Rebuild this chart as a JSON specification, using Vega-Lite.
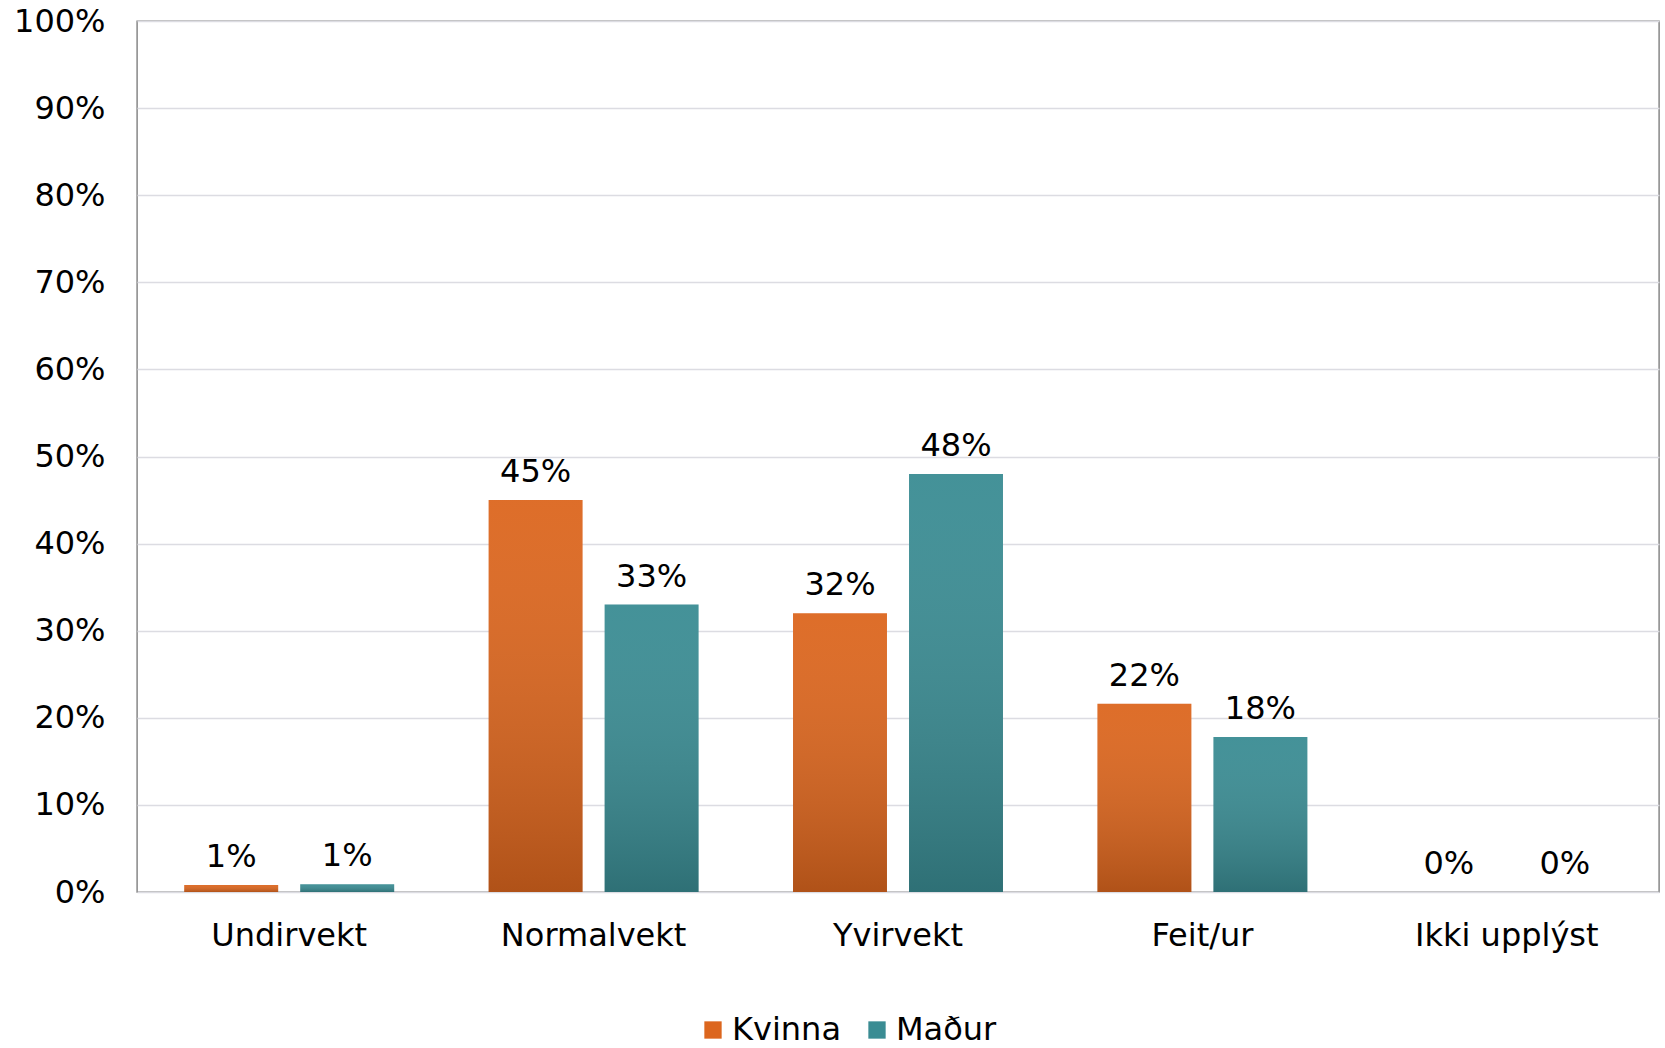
{
  "$schema": "https://vega.github.io/schema/vega-lite/v6.json",
  "width": 1522,
  "height": 871,
  "autosize": {"type": "none"},
  "padding": {"left": 137, "top": 21, "right": 6, "bottom": 156},
  "background": "white",
  "config": {
    "font": "DejaVu Sans",
    "view": {"stroke": "#7f7f7f", "strokeWidth": 1.4}
  },
  "data": {
    "values": [
      {"kategori": "Undirvekt", "kyn": "Kvinna", "virdi": 0.008},
      {"kategori": "Undirvekt", "kyn": "Maður", "virdi": 0.009},
      {"kategori": "Normalvekt", "kyn": "Kvinna", "virdi": 0.45},
      {"kategori": "Normalvekt", "kyn": "Maður", "virdi": 0.33},
      {"kategori": "Yvirvekt", "kyn": "Kvinna", "virdi": 0.32},
      {"kategori": "Yvirvekt", "kyn": "Maður", "virdi": 0.48},
      {"kategori": "Feit/ur", "kyn": "Kvinna", "virdi": 0.216},
      {"kategori": "Feit/ur", "kyn": "Maður", "virdi": 0.178},
      {"kategori": "Ikki upplýst", "kyn": "Kvinna", "virdi": 0},
      {"kategori": "Ikki upplýst", "kyn": "Maður", "virdi": 0}
    ]
  },
  "encoding": {
    "x": {
      "field": "kategori",
      "type": "nominal",
      "sort": ["Undirvekt", "Normalvekt", "Yvirvekt", "Feit/ur", "Ikki upplýst"],
      "scale": {"paddingInner": 0, "paddingOuter": 0},
      "axis": {
        "title": null,
        "labelAngle": 0,
        "labelFontSize": 32,
        "labelPadding": 28,
        "labelLimit": 400,
        "labelColor": "black",
        "ticks": false,
        "domain": false,
        "grid": false
      }
    },
    "xOffset": {
      "field": "kyn",
      "type": "nominal",
      "sort": ["Kvinna", "Maður"],
      "scale": {"paddingInner": 0.19, "paddingOuter": 0.407}
    },
    "y": {
      "field": "virdi",
      "type": "quantitative",
      "scale": {"domain": [0, 1]},
      "axis": {
        "title": null,
        "format": ".0%",
        "values": [0, 0.1, 0.2, 0.3, 0.4, 0.5, 0.6, 0.7, 0.8, 0.9, 1],
        "labelFontSize": 32,
        "labelPadding": 32,
        "labelLimit": 300,
        "labelColor": "black",
        "ticks": false,
        "domain": false,
        "gridColor": "#dcdce2",
        "gridWidth": 1.3
      }
    }
  },
  "layer": [
    {
      "mark": {"type": "bar"},
      "encoding": {
        "color": {
          "field": "kyn",
          "type": "nominal",
          "scale": {"domain": ["Kvinna", "Maður"], "range": ["#DC661E", "#3A8C93"]},
          "legend": {
            "title": null,
            "orient": "none",
            "direction": "horizontal",
            "legendX": 560,
            "legendY": 993,
            "symbolType": "square",
            "symbolSize": 300,
            "symbolStrokeWidth": 0,
            "labelFontSize": 32,
            "labelLimit": 300,
            "labelColor": "black",
            "labelOffset": 3,
            "columnPadding": 20
          }
        }
      }
    },
    {
      "mark": {
        "type": "bar",
        "fill": {
          "gradient": "linear",
          "x1": 0, "y1": 0, "x2": 0, "y2": 1,
          "stops": [
            {"offset": 0, "color": "rgba(255,255,255,0.05)"},
            {"offset": 1, "color": "rgba(0,0,0,0.2)"}
          ]
        }
      }
    },
    {
      "mark": {"type": "text", "baseline": "alphabetic", "dy": -18, "fontSize": 32, "color": "black"},
      "encoding": {
        "text": {"field": "virdi", "type": "quantitative", "format": ".0%"}
      }
    }
  ]
}
